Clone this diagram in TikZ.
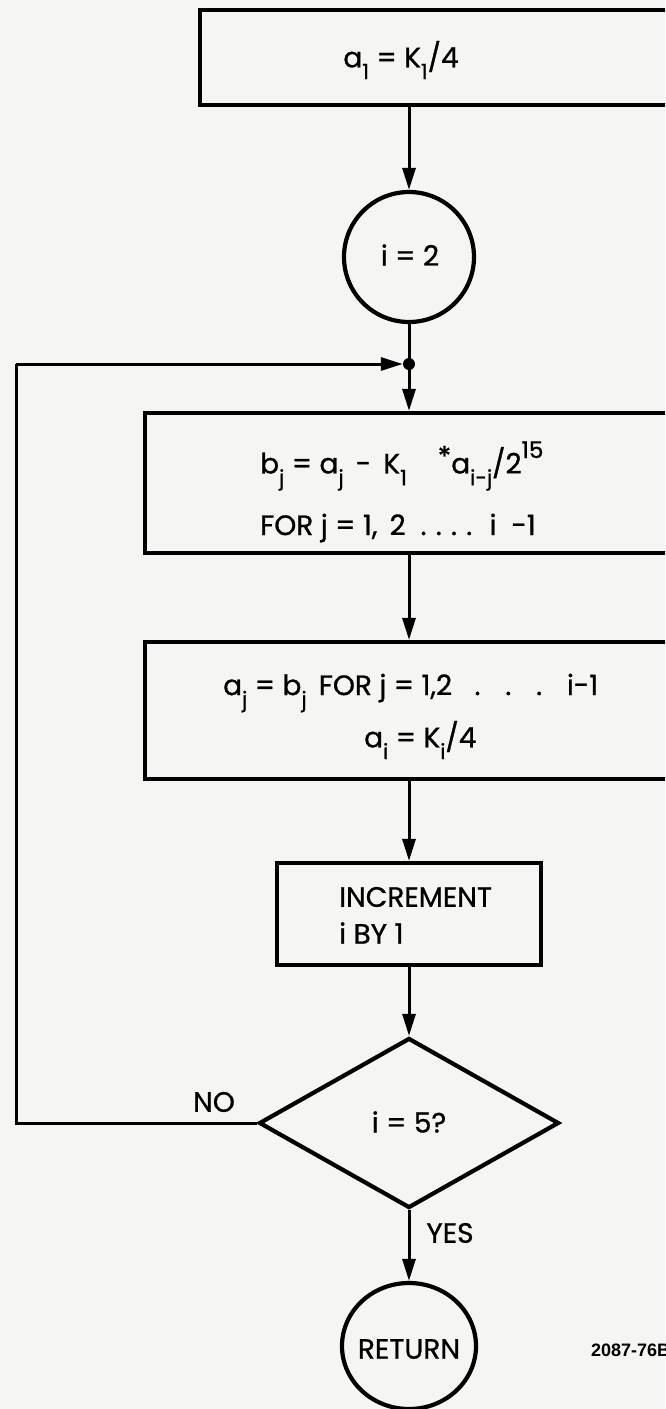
\documentclass[tikz,border=0pt]{standalone}
\usepackage{fontspec}
\setmainfont{Poppins}[UprightFeatures={FakeBold=0.9}]
\newfontfamily\labfont{Liberation Sans}
\usetikzlibrary{arrows.meta,shapes.geometric}
\definecolor{paper}{HTML}{F5F5F3}
\newcommand{\lowsub}[1]{\raisebox{-0.42em}{\fontsize{21}{21}\selectfont #1}}
\newcommand{\highsup}[1]{\raisebox{0.55em}{\fontsize{23}{23}\selectfont #1}}
\tikzset{
  box/.style={draw, line width=4.2pt, rectangle, inner sep=0pt},
  roundbox/.style={draw, line width=4.2pt, inner sep=0pt},
  conn/.style={line width=3pt},
  flow/.style={line width=3pt, -{Triangle[length=22pt,width=13pt]}},
  txt/.style={inner sep=0pt, font=\fontsize{28}{32}\selectfont},
}
\begin{document}
\begin{tikzpicture}[x=1pt,y=-1pt]
\useasboundingbox (0,0) rectangle (665,1409);
\clip (0,0) rectangle (665,1409);
\fill[paper] (0,0) rectangle (665,1409);

% shapes
\node[box, minimum width=520pt, minimum height=95pt] (b1) at (460,57.5) {};
\node[roundbox, circle, minimum size=130pt] (c1) at (409,257) {};
\node[circle, fill, inner sep=0pt, minimum size=12pt] (dot) at (409,364) {};
\node[box, minimum width=555pt, minimum height=140pt] (b2) at (422.5,483) {};
\node[box, minimum width=555pt, minimum height=137pt] (b3) at (422.5,710.5) {};
\node[box, minimum width=264pt, minimum height=102pt] (inc) at (409,914) {};
\node[roundbox, diamond, minimum width=300pt, minimum height=170pt] (dec) at (409,1123) {};
\node[roundbox, ellipse, minimum width=134pt, minimum height=126pt] (ret) at (409,1346) {};
\coordinate (lt) at (16,364);
\coordinate (lb) at (16,1123);

% texts
\node[txt] (t1) at (401,60) {a\lowsub{1} = K\lowsub{1}/4};
\node[txt] (t2) at (410,255) {i = 2};
\node[txt, anchor=west] (t3) at (260,466) {b\lowsub{j} = a\lowsub{j} \,-\, K\lowsub{1}\hspace{1.1em}\raisebox{0.25em}{*}a\lowsub{i-j}/2\highsup{15}};
\node[txt, anchor=west] (t4) at (260,528) {FOR j = 1, \,2 \ .\,\,.\,\,.\,\,. \ i \ -1};
\node[txt, anchor=west] (t5) at (223,693) {a\lowsub{j} = b\lowsub{j} \,FOR j = 1,2 \ \ . \ \ . \ \ . \ \ i-1};
\node[txt, anchor=west] (t6) at (364,740) {a\lowsub{i} = K\lowsub{i}/4};
\node[txt, anchor=west] (t7) at (339,897) {INCREMENT};
\node[txt, anchor=west] (t8) at (339,933) {i BY 1};
\node[txt] (t9) at (409,1122) {i = 5?};
\node[txt] (tno) at (214,1102) {NO};
\node[txt] (tyes) at (450,1233) {YES};
\node[txt] (tret) at (409,1349) {RETURN};
\node[inner sep=0pt, anchor=west, font=\labfont\bfseries\fontsize{18}{20}\selectfont] (fig) at (591,1350) {2087-76B};

% connectors
\draw[flow] (c1 |- b1.south) -- (c1.north);
\draw[conn] (c1.south) -- (dot.center);
\draw[flow] (dot.center) -- (dot |- b2.north);
\draw[flow] (dot |- b2.south) -- (dot |- b3.north);
\draw[flow] (dot |- b3.south) -- (inc.north);
\draw[flow] (inc.south) -- (dec.north);
\draw[flow] (dec.south) -- (ret.north);
\draw[conn] (dec.west) -- (lb) -- (lt);
\draw[flow] (lt) -- (dot.west);
\end{tikzpicture}
\end{document}
